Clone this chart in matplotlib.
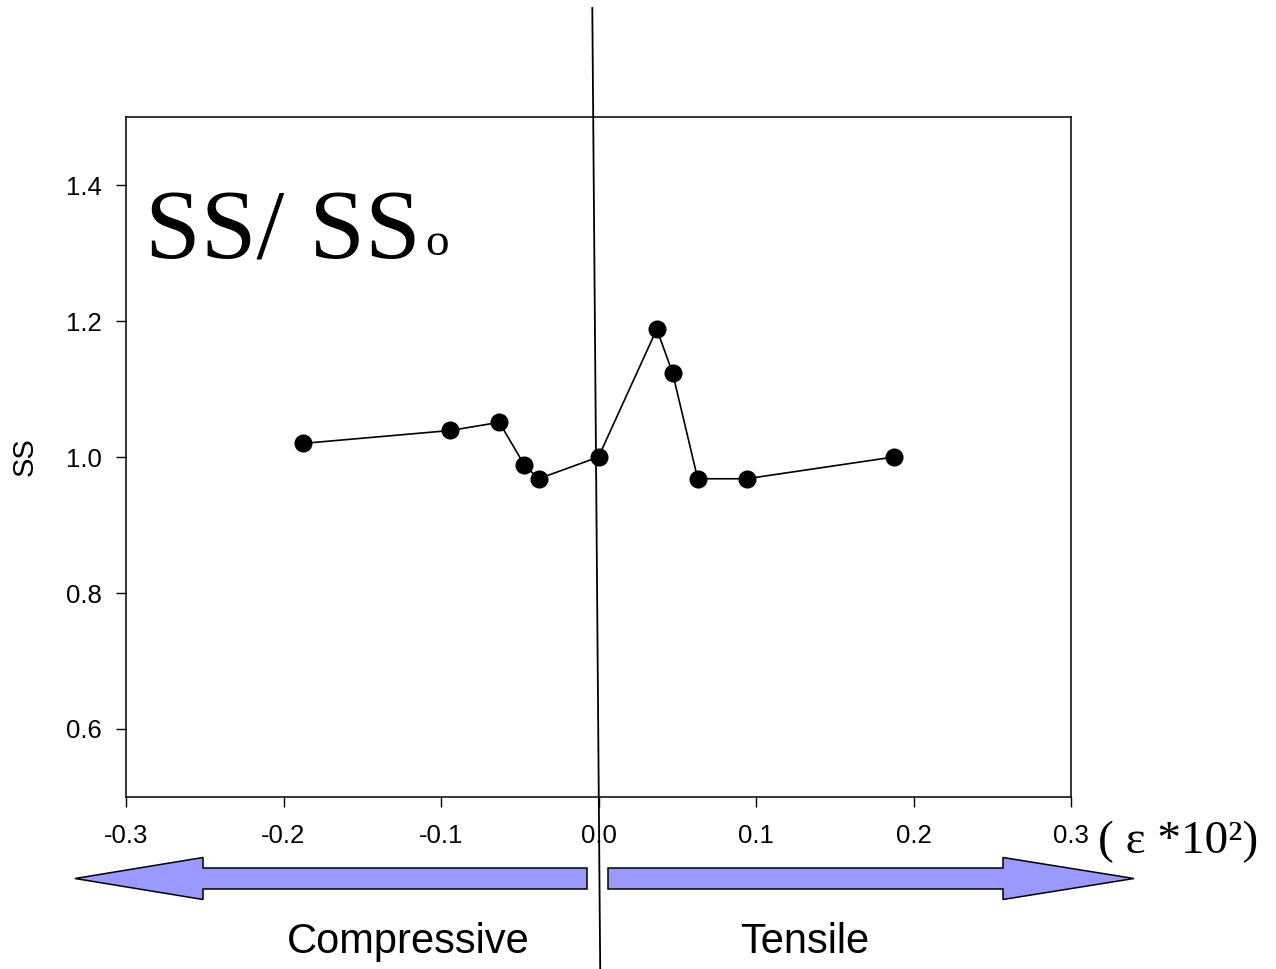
import matplotlib
matplotlib.use("Agg")
import matplotlib.pyplot as plt
from matplotlib.patches import Polygon
from matplotlib.lines import Line2D

plt.rcParams['font.family'] = ['Liberation Sans', 'DejaVu Sans']

# strain (eps*10^2) and normalised SS
strain = [-0.1875, -0.094, -0.063, -0.047, -0.038, 0.0, 0.037, 0.047, 0.063, 0.094, 0.1875]
ss = [1.020, 1.039, 1.051, 0.988, 0.968, 1.000, 1.188, 1.124, 0.968, 0.968, 1.000]

xticks = [-0.3, -0.2, -0.1, 0.0, 0.1, 0.2, 0.3]
yticks = [0.6, 0.8, 1.0, 1.2, 1.4]

W, H = 1276, 969
def fx(px):
    return px / W
def fy(py):
    return 1 - py / H

fig = plt.figure(figsize=(W / 100, H / 100), dpi=100)
ax = fig.add_axes([fx(126), fy(797), fx(1071) - fx(126), fy(117) - fy(797)])

ax.plot(strain, ss, '-', color='black', linewidth=1.2, marker='o',
        markersize=12, markerfacecolor='black', markeredgecolor='black')

ax.set_xlim(-0.3, 0.3)
ax.set_ylim(0.5, 1.5)
ax.set_xticks(xticks)
ax.set_xticklabels(['%.1f' % t for t in xticks])
ax.set_yticks(yticks)
ax.set_yticklabels(['%.1f' % t for t in yticks])
ax.tick_params(direction='out', length=7.2, width=1.0, labelsize=18.5, pad=10)
ax.tick_params(axis='x', pad=12)
for sp in ax.spines.values():
    sp.set_linewidth(1.1)

ax.set_ylabel('SS', fontsize=21, va='center')
ax.yaxis.set_label_coords(-0.107, 0.5)

# big title inside the frame
fig.text(fx(145), fy(258), 'SS/ SS', family='Liberation Serif', fontsize=72,
         ha='left', va='baseline')
fig.text(fx(425), fy(255), 'o', family='Liberation Serif', fontsize=34,
         ha='left', va='baseline')

# x unit
fig.text(fx(1098), fy(853), '( ε *10²)', family='Liberation Serif', fontsize=34,
         ha='left', va='baseline')

# zero-strain divider
fig.add_artist(Line2D([fx(592.3), fx(600.2)], [fy(8), fy(969)], color='black',
                      linewidth=1.3, zorder=10))

# direction arrows
blue = '#9999ff'
left_arrow = [(75, 878.5), (203, 857.5), (203, 868), (587, 868),
              (587, 889), (203, 889), (203, 899.5)]
right_arrow = [(608, 868), (1003, 868), (1003, 857.5), (1134, 878.5),
               (1003, 899.5), (1003, 889), (608, 889)]
for pts in (left_arrow, right_arrow):
    fig.add_artist(Polygon([(fx(x), fy(y)) for x, y in pts], closed=True,
                           facecolor=blue, edgecolor='black', linewidth=1.1,
                           transform=fig.transFigure))

fig.text(fx(408.7), fy(953), 'Compressive', fontsize=30, ha='center', va='baseline')
fig.text(fx(805), fy(953), 'Tensile', fontsize=30, ha='center', va='baseline')

fig.savefig('out.png', dpi=100)
